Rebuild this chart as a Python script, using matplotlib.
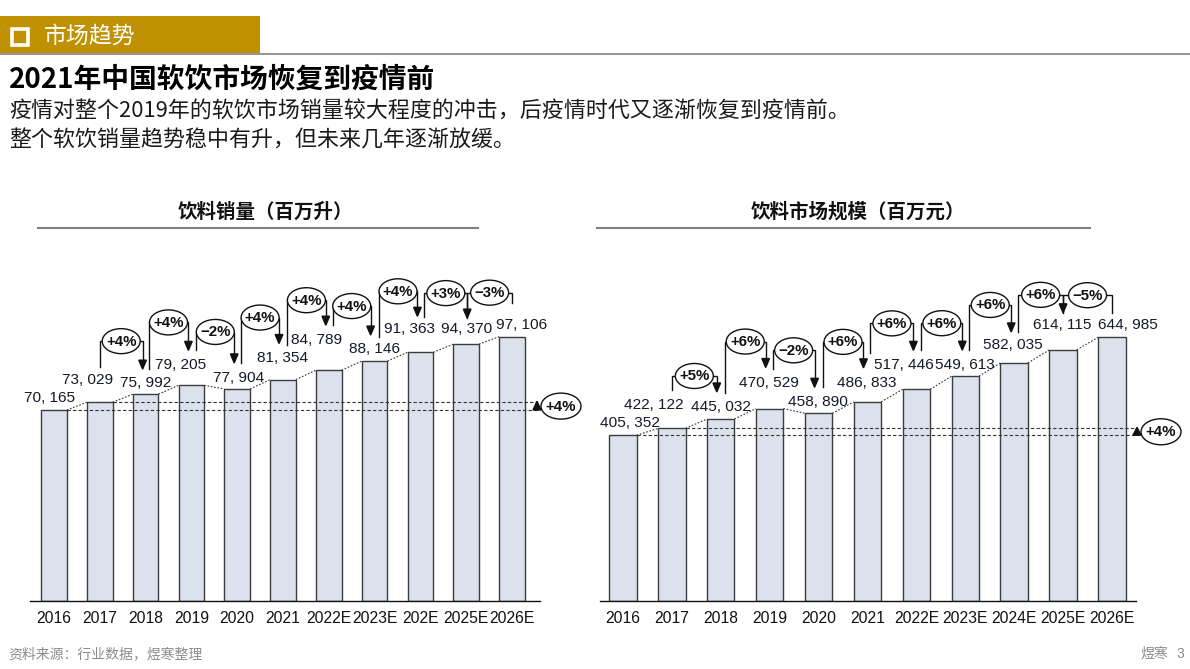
import matplotlib
matplotlib.use("Agg")
import matplotlib.pyplot as plt
from matplotlib.patches import Rectangle, Ellipse, Polygon

# ---------------- data ----------------
years_left = ["2016", "2017", "2018", "2019", "2020", "2021", "2022E", "2023E", "202E", "2025E", "2026E"]
years_right = ["2016", "2017", "2018", "2019", "2020", "2021", "2022E", "2023E", "2024E", "2025E", "2026E"]
volume = [70165, 73029, 75992, 79205, 77904, 81354, 84789, 88146, 91363, 94370, 97106]
market = [405352, 422122, 445032, 470529, 458890, 486833, 517446, 549613, 582035, 614115, 644985]
volume_growth = ["+4%", "+4%", "\u22122%", "+4%", "+4%", "+4%", "+4%", "+3%", "\u22123%"]
market_growth = ["+5%", "+6%", "\u22122%", "+6%", "+6%", "+6%", "+6%", "+6%", "\u22125%"]
volume_cagr = "+4%"
market_cagr = "+4%"

title_main = "2021年中国软饮市场恢复到疫情前"
sub1 = "疫情对整个2019年的软饮市场销量较大程度的冲击，后疫情时代又逐渐恢复到疫情前。"
sub2 = "整个软饮销量趋势稳中有升，但未来几年逐渐放缓。"
left_title = "饮料销量（百万升）"
right_title = "饮料市场规模（百万元）"
section = "市场趋势"
source = "资料来源：行业数据，煜寒整理"

# ---------------- layout (pixels) ----------------
W, H = 1190, 669
CJK = ["Noto Sans CJK SC", "DejaVu Sans"]
NUM = ["Liberation Sans", "DejaVu Sans"]
GOLD = "#BF9000"
BAR = "#DCE2ED"
TXT = "#15182a"

# label offsets (dx, dy) in px relative to bar top centre
left_lab = [(-4, -12), (-12, -22), (0, -11), (-11, -20), (1, -11), (0, -22),
            (-12, -30), (0, -12), (-11, -23), (0, -15), (10, -12)]
right_lab = [(7, -12), (-18, -23), (0, -12), (-1, -26), (-1, -11), (-1, -19),
             (-13, -24), (0, -11), (-1, -18), (-1, -25), (16, -12)]
# bracket layout: (dxL, dyL, dyLevel, dxR, dyR, arrow) for pair (i, i+1), i starting at 1
left_br = [(0, -35, -53, -3, -25, True), (3, -25, -63, -3, -35, True), (5, -35, -57, -3, -26, True),
           (4, -26, -62, -4, -36, True), (4, -35, -70, -3, -45, True), (4, -45, -55, -4, -26, True),
           (4, -24, -61, -3, -36, True), (4, -35, -51, 1, -26, True), (1, -26, -44, 0, -34, False)]
right_br = [(0, -38, -43, -4, -27, True), (4, -26, -67, -4, -41, True), (3, -40, -63, -4, -26, True),
            (4, -26, -60, -4, -34, True), (3, -49, -66, -3, -39, True), (5, -39, -53, -3, -26, True),
            (4, -26, -58, -3, -31, True), (4, -31, -55, 0, -37, True), (0, -37, -42, 0, -24, False)]

fig = plt.figure(figsize=(W / 100, H / 100), dpi=100)
fig.patch.set_facecolor("white")


def px_axes(x0, x1, ytop, ybot):
    return fig.add_axes([x0 / W, 1 - ybot / H, (x1 - x0) / W, (ybot - ytop) / H])


def make_chart(x0, x1, xlim, ymax, values, years):
    ax = px_axes(x0, x1, 200, 601)
    ax.bar(range(len(values)), values, width=0.56, color=BAR, edgecolor="#3c3c3c",
           linewidth=1.0, zorder=2)
    ax.set_xlim(*xlim)
    ax.set_ylim(0, ymax)
    ax.set_xticks(range(len(years)))
    ax.set_xticklabels(years, fontsize=11.3, family=NUM, color="#111111")
    ax.tick_params(axis="x", length=0, pad=7)
    ax.set_yticks([])
    for s in ["left", "right", "top"]:
        ax.spines[s].set_visible(False)
    ax.spines["bottom"].set_color("#111111")
    ax.spines["bottom"].set_linewidth(1.0)
    ax.patch.set_alpha(0)
    return ax


axL = make_chart(30, 540, (-0.524, 10.611), 147318, volume, years_left)
axR = make_chart(600, 1136, (-0.470, 10.491), 980440, market, years_right)

ov = fig.add_axes([0, 0, 1, 1])
ov.set_xlim(0, W)
ov.set_ylim(H, 0)
ov.axis("off")
ov.patch.set_alpha(0)
ov.set_zorder(5)


def to_px(ax, x, y):
    d = ax.transData.transform((x, y))
    return d[0], H - d[1]


def fmt(v):
    return f"{v:,}".replace(",", ", ")


def oval(x, y, txt, w=38, h=25):
    ov.add_patch(Ellipse((x, y), w, h, facecolor="white", edgecolor="#111111", lw=1.0, zorder=6))
    ov.text(x, y + 0.5, txt, ha="center", va="center", fontsize=10.8, fontweight="bold",
            family=NUM, color="#111111", zorder=7)


def annotate(ax, values, lab_off, brackets, growth, cagr_txt, cagr_xend):
    pts = [to_px(ax, i, v) for i, v in enumerate(values)]
    hw = to_px(ax, 0.28, 0)[0] - to_px(ax, 0, 0)[0]
    # data labels
    for (cx, ty), v, (dx, dy) in zip(pts, values, lab_off):
        ov.text(cx + dx, ty + dy, fmt(v), ha="center", va="center", fontsize=11.1,
                family=NUM, color=TXT, zorder=4)
    # dotted connectors
    for i in range(len(pts) - 1):
        ov.plot([pts[i][0] + hw, pts[i + 1][0] - hw], [pts[i][1], pts[i + 1][1]],
                ls=(0, (1.5, 1.5)), color="#333333", lw=0.8, zorder=3)
    # CAGR lines
    for k in (0, 1):
        ov.plot([pts[k][0] + hw, cagr_xend], [pts[k][1], pts[k][1]], ls=(0, (3, 2)),
                color="#333333", lw=0.8, zorder=3)
    y0, y1 = pts[0][1], pts[1][1]
    ov.add_patch(Polygon([(cagr_xend - 4, y0), (cagr_xend + 4, y0), (cagr_xend, y1 - 1)],
                         closed=True, color="#111111", zorder=6))
    oval(cagr_xend + 24, (y0 + y1) / 2, cagr_txt, w=40, h=26)
    # growth brackets
    for j, (b, g) in enumerate(zip(brackets, growth)):
        i = j + 1
        dxL, dyL, dyLev, dxR, dyR, arrow = b
        xL = pts[i][0] + dxL
        yB = pts[i][1] + dyL
        xR = pts[i + 1][0] + dxR
        lev = pts[i + 1][1] + dyLev
        tip = pts[i + 1][1] + dyR
        ov.plot([xL, xL, xR, xR], [yB, lev, lev, tip - (9 if arrow else 0)],
                color="#111111", lw=1.0, zorder=5, solid_joinstyle="miter")
        if arrow:
            ov.add_patch(Polygon([(xR - 3.8, tip - 9), (xR + 3.8, tip - 9), (xR, tip)],
                                 closed=True, color="#111111", zorder=6))
        oval((xL + xR) / 2, lev, g)


annotate(axL, volume, left_lab, left_br, volume_growth, volume_cagr, 537)
annotate(axR, market, right_lab, right_br, market_growth, market_cagr, 1137)

# ---------------- header & text ----------------
ov.add_patch(Rectangle((0, 16), 260, 37, facecolor=GOLD, edgecolor="none", zorder=1))
ov.add_patch(Rectangle((11.5, 29), 16, 16, facecolor=GOLD, edgecolor="white", lw=2.6, zorder=2))
ov.text(44, 36, section, ha="left", va="center", fontsize=16.5, family=CJK, color="white", zorder=2)
ov.plot([0, W], [53.5, 53.5], color="#7f7f7f", lw=1.2, zorder=1)

ov.text(9, 80, title_main, ha="left", va="center", fontsize=20, fontweight="bold",
        family=CJK, color="#000000")
ov.text(9, 112, sub1, ha="left", va="center", fontsize=15.8, family=CJK, color="#1a1a1a")
ov.text(9, 140, sub2, ha="left", va="center", fontsize=15.8, family=CJK, color="#1a1a1a")

ov.text(265, 212, left_title, ha="center", va="center", fontsize=14, fontweight="bold",
        family=CJK, color="#111111")
ov.plot([38, 478], [228, 228], color="#7f7f7f", lw=1.5)
ov.text(858, 212, right_title, ha="center", va="center", fontsize=14, fontweight="bold",
        family=CJK, color="#111111")
ov.plot([597, 1090], [228, 228], color="#7f7f7f", lw=1.5)

ov.text(8, 654, source, ha="left", va="center", fontsize=10, family=CJK, color="#8c8c8c")
ov.text(1140, 654, "煜寒", ha="left", va="center", fontsize=10, family=CJK, color="#8c8c8c")
ov.text(1176, 654, "3", ha="left", va="center", fontsize=10, family=NUM, color="#8c8c8c")

fig.savefig("out.png", dpi=100, facecolor="white")
